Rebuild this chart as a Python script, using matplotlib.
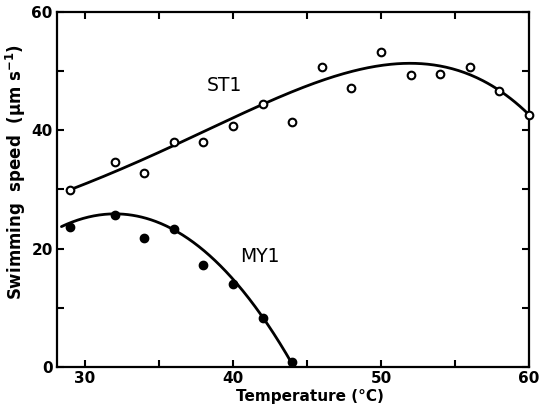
import numpy as np
import matplotlib
matplotlib.use("Agg")
import matplotlib.pyplot as plt

# Data
st1_temp = [29, 32, 34, 36, 38, 40, 42, 44, 46, 48, 50, 52, 54, 56, 58, 60]
st1_speed = [29.9, 34.6, 32.8, 38.1, 38.1, 40.8, 44.4, 41.4, 50.7, 47.2, 53.3, 49.4, 49.5, 50.7, 46.7, 42.6]

my1_temp = [29, 32, 34, 36, 38, 40, 42, 44]
my1_speed = [23.7, 25.7, 21.8, 23.4, 17.2, 14.0, 8.2, 0.8]

# Fitted curves
st1_curve_x = [29, 32, 34, 36, 38, 40, 42, 44, 46, 48, 50, 52, 54, 56, 58, 60]
st1_curve_y = [29.9, 33.0, 35.3, 37.7, 39.7, 41.8, 44.3, 46.4, 48.4, 50.2, 51.2, 51.4, 50.9, 49.0, 46.7, 42.8]
my1_curve_x = [28.4, 30, 32, 33, 34, 36, 38, 40, 42, 44]
my1_curve_y = [23.8, 25.2, 25.7, 25.6, 25.3, 23.4, 19.9, 14.6, 8.3, 0.6]

plt.rcParams['font.family'] = ['DejaVu Sans']

fig = plt.figure(figsize=(5.4, 4.07), dpi=100)
ax = fig.add_axes([57/540, 40/407, 472/540, 355/407])

def smooth_fit(xs, ys, deg, n=300):
    c = np.polyfit(xs, ys, deg)
    xx = np.linspace(min(xs), max(xs), n)
    return xx, np.polyval(c, xx)

sx, sy = smooth_fit(st1_curve_x, st1_curve_y, 4)
mx, my = smooth_fit(my1_curve_x, my1_curve_y, 3)
ax.plot(sx, sy, color='black', lw=2.0, solid_capstyle='round', zorder=2)
ax.plot(mx, my, color='black', lw=2.0, solid_capstyle='round', zorder=2)

ax.plot(st1_temp, st1_speed, linestyle='none', marker='o', markersize=5.5,
        markerfacecolor='white', markeredgecolor='black', markeredgewidth=1.5, zorder=3,
        clip_on=False)
ax.plot(my1_temp, my1_speed, linestyle='none', marker='o', markersize=6,
        markerfacecolor='black', markeredgecolor='black', zorder=3, clip_on=False)

ax.text(39.4, 47.5, "ST1", fontsize=13.5, fontweight='medium', ha='center', va='center')
ax.text(41.8, 18.6, "MY1", fontsize=13.5, fontweight='medium', ha='center', va='center')

ax.set_xlim(28.1, 60)
ax.set_ylim(0, 60)
ax.set_xticks([30, 35, 40, 45, 50, 55, 60])
ax.set_xticklabels(["30", "", "40", "", "50", "", "60"])
ax.set_yticks([0, 10, 20, 30, 40, 50, 60])
ax.set_yticklabels(["0", "", "20", "", "40", "", "60"])
ax.tick_params(direction='in', length=5, width=1.5, top=True, right=True,
               labelsize=11, pad=3)
for lab in ax.get_xticklabels() + ax.get_yticklabels():
    lab.set_fontweight('bold')
for s in ax.spines.values():
    s.set_linewidth(1.6)

fig.text(310 / 540, 1 - 397 / 407, "Temperature (°C)", fontsize=11, fontweight='bold',
         ha='center', va='center')
fig.text(16 / 540, 1 - 172 / 407, "Swimming  speed  (μm s$^{\\mathbf{-1}}$)", fontsize=12,
         fontweight='bold', rotation=90, ha='center', va='center')

fig.savefig("out.png", dpi=100)
